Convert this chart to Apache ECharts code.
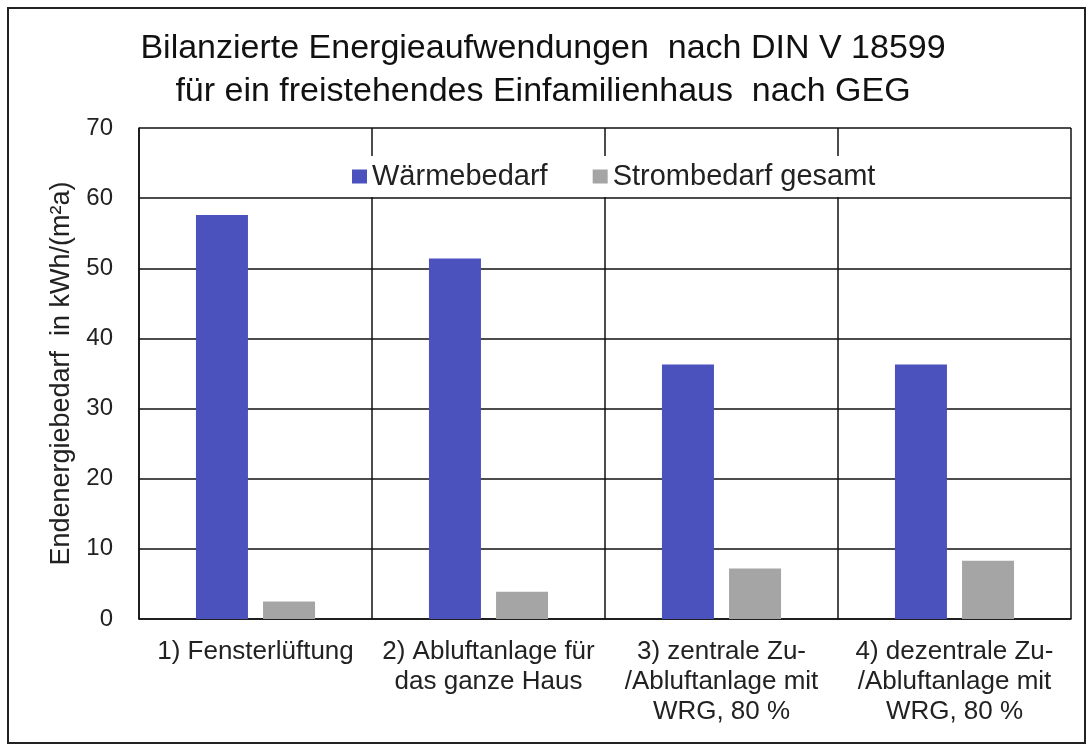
<!DOCTYPE html>
<html>
<head>
<meta charset="utf-8">
<script src="https://cdn.jsdelivr.net/npm/echarts@6/dist/echarts.min.js"></script>
<style>
  html, body { margin: 0; padding: 0; background: #fff; }
  #main { width: 1092px; height: 751px; }
</style>
</head>
<body>
<div id="main"></div>
<script>
// Kategorien (x-Achse)
var categories = [
    '1) Fensterlüftung',
    '2) Abluftanlage für\ndas ganze Haus',
    '3) zentrale Zu-\n/Abluftanlage mit\nWRG, 80 %',
    '4) dezentrale Zu-\n/Abluftanlage mit\nWRG, 80 %'
];
// Reihen
var seriesNames = ['Wärmebedarf', 'Strombedarf gesamt'];
var waermebedarf = [57.6, 51.4, 36.3, 36.3];
var strombedarf = [2.5, 3.9, 7.2, 8.3];
// y-Achse
var yTicks = [0, 10, 20, 30, 40, 50, 60, 70];

var font = 'Arial, "Liberation Sans", sans-serif';
var myChart = echarts.init(document.getElementById('main'));

var option = {
    backgroundColor: '#fff',
    animation: false,
    textStyle: { fontFamily: font },
    // Rahmen um das ganze Diagramm
    graphic: [{
        type: 'rect',
        shape: { x: 8, y: 8, width: 1077, height: 735 },
        style: { fill: 'none', stroke: '#222', lineWidth: 2 },
        silent: true
    }],
    title: {
        text: 'Bilanzierte Energieaufwendungen  nach DIN V 18599\nfür ein freistehendes Einfamilienhaus  nach GEG',
        left: 538,
        textAlign: 'center',
        top: 22,
        textStyle: {
            fontFamily: font,
            fontSize: 34,
            fontWeight: 'normal',
            color: '#111',
            lineHeight: 43
        }
    },
    legend: {
        data: seriesNames,
        top: 156,
        left: 346,
        itemWidth: 15,
        itemHeight: 14,
        itemGap: 45,
        icon: 'rect',
        backgroundColor: '#fff',
        padding: [6, 6],
        textStyle: { fontSize: 29, color: '#222', fontFamily: font }
    },
    grid: {
        left: 139,
        right: 21,
        top: 128,
        bottom: 132,
        containLabel: false
    },
    xAxis: {
        type: 'category',
        data: categories,
        axisLine: { lineStyle: { color: '#111', width: 1.5 } },
        axisTick: { show: false },
        splitLine: { show: true, interval: 0, lineStyle: { color: '#111', width: 1.5 } },
        axisLabel: {
            interval: 0,
            fontSize: 26,
            lineHeight: 30,
            color: '#222',
            margin: 18
        }
    },
    yAxis: {
        type: 'value',
        min: yTicks[0],
        max: yTicks[yTicks.length - 1],
        interval: 10,
        name: 'Endenergiebedarf  in kWh/(m²a)',
        nameLocation: 'middle',
        nameGap: 62,
        nameTextStyle: { fontSize: 27, color: '#222', fontFamily: font },
        axisLine: { show: true, lineStyle: { color: '#111', width: 1.5 } },
        axisTick: { show: false },
        splitLine: { lineStyle: { color: '#111', width: 1.5 } },
        axisLabel: { fontSize: 24, color: '#222', margin: 26 }
    },
    series: [
        {
            name: seriesNames[0],
            type: 'bar',
            data: waermebedarf,
            barWidth: 52,
            barGap: '29%',
            itemStyle: { color: '#4b51bd' }
        },
        {
            name: seriesNames[1],
            type: 'bar',
            data: strombedarf,
            barWidth: 52,
            barGap: '29%',
            itemStyle: { color: '#a5a5a5' }
        }
    ]
};
myChart.setOption(option);
</script>
</body>
</html>
